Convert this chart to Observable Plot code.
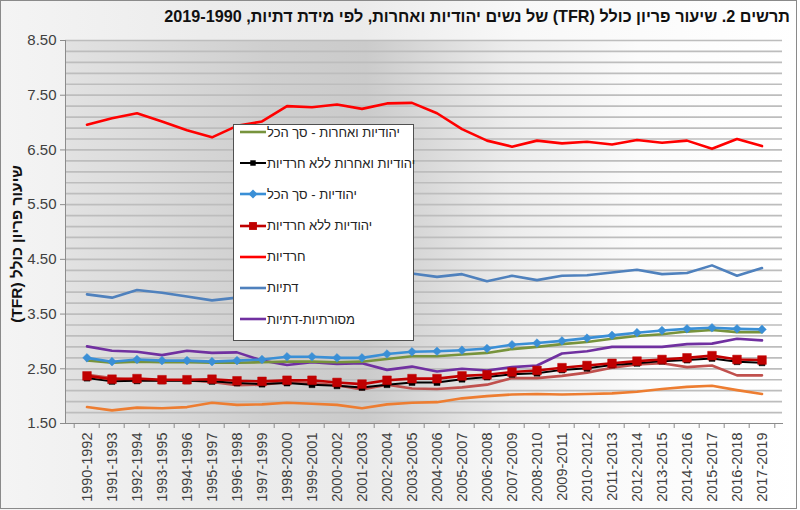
<!DOCTYPE html>
<html>
<head>
<meta charset="utf-8">
<script src="https://cdn.jsdelivr.net/npm/d3@7"></script>
<script src="https://cdn.jsdelivr.net/npm/@observablehq/plot@0.6"></script>
<style>
  body { margin: 0; background: #fff; }
  #chart {
    position: relative; width: 800px; height: 510px; overflow: hidden;
    font-family: "Liberation Sans", Arial, sans-serif;
    background: linear-gradient(90deg, #f4f4f4 0%, #ececec 25%, #ebebeb 45%, #f8f8f8 65%, #ffffff 100%);
  }
  #plotbg {
    position: absolute; left: 65px; top: 40px; width: 717px; height: 383px;
    background: linear-gradient(90deg, #e2e2e2 0%, #cfcfcf 28%, #cbcbcb 42%, #ececec 62%, #fbfbfb 80%, #ffffff 100%);
  }
  #plot { position: absolute; left: 0; top: 0; }
  #frame { position: absolute; left: 0; top: 0; width: 795px; height: 507px; border: 1px solid #8a8a8a; pointer-events: none; }
  #title {
    position: absolute; right: 10px; top: 7px; direction: rtl; white-space: nowrap;
    font-weight: bold; font-size: 16.2px; color: #111;
  }
  #ylabel {
    position: absolute; left: 17px; top: 244px; transform: translate(-50%, -50%) rotate(-90deg);
    direction: rtl; white-space: nowrap; font-weight: bold; font-size: 15.5px; color: #111;
  }
  #legend {
    position: absolute; left: 233px; top: 124px; width: 181px; height: 217px;
    background: #fff; border: 1px solid #505050; box-sizing: border-box;
  }
  .item { position: absolute; left: 6px; display: flex; align-items: center; height: 16px; }
  .item span { direction: rtl; font-size: 13px; color: #222; white-space: nowrap; margin-left: 1px; }
</style>
</head>
<body>
<div id="chart">
  <div id="plotbg"></div>
  <div id="plot"></div>
  <div id="title">תרשים 2. שיעור פריון כולל (TFR) של נשים יהודיות ואחרות, לפי מידת דתיות, 2019-1990</div>
  <div id="ylabel">שיעור פריון כולל (TFR)</div>
  <div id="legend"></div>
  <div id="frame"></div>
</div>
<script>
// Three-year periods on the x axis
const periods = [
  "1990-1992","1991-1993","1992-1994","1993-1995","1994-1996","1995-1997","1996-1998",
  "1997-1999","1998-2000","1999-2001","2000-2002","2001-2003","2002-2004","2003-2005",
  "2004-2006","2005-2007","2006-2008","2007-2009","2008-2010","2009-2011","2010-2012",
  "2011-2013","2012-2014","2013-2015","2014-2016","2015-2017","2016-2018","2017-2019"
];

// Total fertility rate by group
const jewsOthersTotal = [2.65,2.61,2.63,2.62,2.62,2.61,2.61,2.62,2.63,2.63,2.62,2.63,2.68,2.73,2.73,2.76,2.79,2.86,2.90,2.95,2.99,3.05,3.10,3.13,3.18,3.21,3.17,3.17];
const jewsOthersNonHaredi = [2.33,2.27,2.28,2.28,2.28,2.27,2.24,2.22,2.24,2.21,2.19,2.16,2.21,2.25,2.25,2.31,2.35,2.40,2.42,2.48,2.51,2.57,2.60,2.64,2.66,2.69,2.63,2.61];
const jewsTotal = [2.70,2.63,2.67,2.65,2.65,2.63,2.65,2.67,2.72,2.72,2.70,2.70,2.77,2.81,2.82,2.84,2.87,2.94,2.97,3.01,3.06,3.11,3.16,3.20,3.23,3.25,3.23,3.22];
const jewsNonHaredi = [2.37,2.31,2.32,2.30,2.30,2.31,2.28,2.27,2.29,2.29,2.25,2.22,2.29,2.32,2.32,2.37,2.39,2.44,2.47,2.52,2.56,2.60,2.64,2.67,2.70,2.74,2.67,2.66];
const haredi = [6.96,7.08,7.17,7.02,6.86,6.73,6.94,7.02,7.30,7.28,7.33,7.25,7.35,7.36,7.17,6.88,6.67,6.56,6.67,6.62,6.65,6.60,6.68,6.63,6.67,6.52,6.70,6.57];
const religious = [3.86,3.80,3.94,3.89,3.82,3.75,3.80,3.85,3.98,4.05,4.10,4.12,4.20,4.24,4.18,4.23,4.10,4.20,4.12,4.20,4.21,4.26,4.31,4.23,4.25,4.39,4.20,4.34];
const traditionalReligious = [2.91,2.83,2.81,2.75,2.83,2.79,2.80,2.65,2.57,2.62,2.59,2.60,2.48,2.54,2.45,2.50,2.47,2.53,2.56,2.78,2.82,2.90,2.90,2.90,2.95,2.96,3.05,3.02];
const traditionalNotReligious = [2.39,2.33,2.30,2.29,2.29,2.26,2.20,2.21,2.26,2.24,2.20,2.12,2.21,2.14,2.13,2.16,2.21,2.33,2.33,2.37,2.43,2.52,2.58,2.60,2.53,2.56,2.38,2.38];
const secular = [1.80,1.74,1.79,1.78,1.80,1.88,1.84,1.85,1.88,1.86,1.84,1.78,1.85,1.88,1.89,1.96,2.00,2.03,2.04,2.03,2.04,2.05,2.08,2.13,2.17,2.19,2.11,2.04];

const yTicks = [1.5, 2.5, 3.5, 4.5, 5.5, 6.5, 7.5, 8.5];
const gridLines = d3.range(15, 86, 2).map(v => v / 10);

// Series in drawing order; legend entries carry a label
const series = [
  {label: "יהודיות ואחרות - סך הכל", values: jewsOthersTotal, color: "#77933c", symbol: null, w: 2.6},
  {label: "יהודיות ואחרות ללא חרדיות", values: jewsOthersNonHaredi, color: "#000000", symbol: "square", r: 3.4, w: 2},
  {label: "יהודיות - סך הכל", values: jewsTotal, color: "#3a8fd6", symbol: "diamond2", r: 3.9, w: 2.6},
  {label: "יהודיות ללא חרדיות", values: jewsNonHaredi, color: "#c00000", symbol: "square", r: 4.9, w: 2.6},
  {label: "חרדיות", values: haredi, color: "#ff0000", symbol: null, w: 2.6},
  {label: "דתיות", values: religious, color: "#4f81bd", symbol: null, w: 2.6},
  {label: "מסורתיות-דתיות", values: traditionalReligious, color: "#7030a0", symbol: null, w: 2.6},
  {label: null, values: traditionalNotReligious, color: "#c0504d", symbol: null, w: 2.6},
  {label: null, values: secular, color: "#ed7d31", symbol: null, w: 2.6}
];

const W = 800, H = 510, ML = 65, MR = 18, MT = 40, MB = 87;
const bw = (W - ML - MR) / periods.length;

const lineMarks = [];
const drawOrder = [7, 8, 6, 5, 4, 0, 1, 2, 3];
for (const k of drawOrder) {
  const s = series[k];
  const rows = periods.map((p, i) => ({period: p, value: s.values[i]}));
  lineMarks.push(Plot.line(rows, {x: "period", y: "value", stroke: s.color, strokeWidth: s.w, strokeLinejoin: "round"}));
  if (s.symbol) {
    lineMarks.push(Plot.dot(rows, {x: "period", y: "value", symbol: s.symbol, r: s.r, fill: s.color, stroke: s.color, strokeWidth: 0.5}));
  }
}

const plot = Plot.plot({
  width: W, height: H,
  marginLeft: ML, marginRight: MR, marginTop: MT, marginBottom: MB,
  style: {background: "transparent", fontFamily: "'Liberation Sans', Arial, sans-serif", fontSize: "15px", color: "#404040"},
  x: {type: "band", domain: periods, padding: 0, label: null},
  y: {domain: [1.5, 8.5], label: null},
  marks: [
    Plot.ruleY(gridLines.filter(v => v > 1.5), {stroke: "#bdbdbd", strokeWidth: 1.7}),
    Plot.frame({anchor: "left", stroke: "#8c8c8c"}),
    Plot.frame({anchor: "bottom", stroke: "#8c8c8c"}),
    Plot.axisY({ticks: yTicks, tickFormat: d => d.toFixed(2), tickSize: 5, tickPadding: 4, stroke: "#8c8c8c", fontSize: 15, fill: "#404040"}),
    // tick marks on band boundaries
    Plot.axisX({ticks: periods, tickSize: 5, text: null, dx: -bw / 2, stroke: "#8c8c8c"}),
    Plot.axisX({ticks: periods.slice(-1), tickSize: 5, text: null, dx: bw / 2, stroke: "#8c8c8c"}),
    Plot.axisX({ticks: periods, tickSize: 0, tickPadding: 9, tickRotate: -90, fontSize: 14.5, fill: "#404040"}),
    ...lineMarks
  ]
});
document.getElementById("plot").appendChild(plot);

// Legend box
const legend = document.getElementById("legend");
const rowTops = [0, 31, 62, 93.5, 124.5, 155.5, 187];
series.filter(s => s.label).forEach((s, i) => {
  const item = document.createElement("div");
  item.className = "item";
  item.style.top = (rowTops[i] - 1) + "px";
  const sw = d3.create("svg").attr("width", 26).attr("height", 16);
  sw.append("line").attr("x1", 0).attr("x2", 26).attr("y1", 8).attr("y2", 8).attr("stroke", s.color).attr("stroke-width", s.w);
  if (s.symbol === "square") {
    const a = s.r * 1.6;
    sw.append("rect").attr("x", 13 - a / 2).attr("y", 8 - a / 2).attr("width", a).attr("height", a).attr("fill", s.color);
  } else if (s.symbol === "diamond2") {
    sw.append("path").attr("d", "M13,3.5L17.5,8L13,12.5L8.5,8Z").attr("fill", s.color);
  }
  item.appendChild(sw.node());
  const t = document.createElement("span");
  t.textContent = s.label;
  item.appendChild(t);
  legend.appendChild(item);
});
</script>
</body>
</html>
